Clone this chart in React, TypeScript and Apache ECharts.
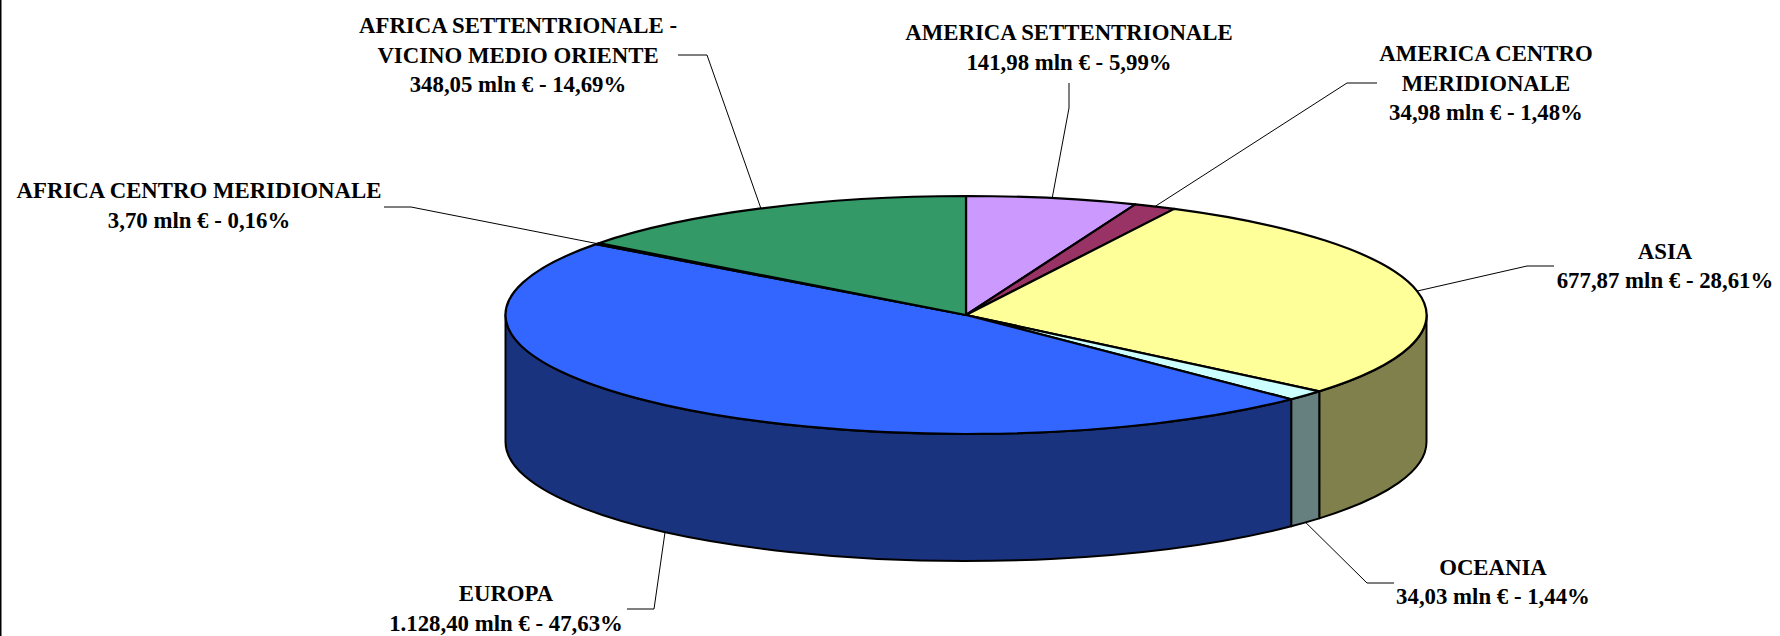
import React, { useEffect, useRef } from "react";
import * as echarts from "echarts";

const categories = [
  "AMERICA SETTENTRIONALE",
  "AMERICA CENTRO\nMERIDIONALE",
  "ASIA",
  "OCEANIA",
  "EUROPA",
  "AFRICA CENTRO MERIDIONALE",
  "AFRICA SETTENTRIONALE -\nVICINO MEDIO ORIENTE",
];
const values = [141.98, 34.98, 677.87, 34.03, 1128.4, 3.7, 348.05];
const valueTexts = ["141,98", "34,98", "677,87", "34,03", "1.128,40", "3,70", "348,05"];
const percentTexts = ["5,99", "1,48", "28,61", "1,44", "47,63", "0,16", "14,69"];
const topColors = ["#CC99FF", "#993366", "#FFFF99", "#CCFFFF", "#3366FF", "#339966", "#339966"];
const wallColors = ["#664D80", "#4D1A33", "#80804D", "#668080", "#1A337F", "#1A4D33", "#1A4D33"];

// layout of the labels: text centre, and the elbow of each leader line (start, bend)
const labelCenters = [[1069, 47.5], [1486, 83], [1665, 266], [1493, 582], [506, 608.5], [199, 205.5], [518, 55]];
const leaderStarts = [[1069, 83], [1377, 83], [1554, 266], [1394, 583], [627, 609], [384, 207], [678, 55]];
const leaderBends = [[1069, 108], [1347, 83], [1527, 266], [1367, 583], [654, 609], [411, 207], [707, 55]];

const CX = 966;
const CY = 315;
const RX = 460.5;
const RY = 119;
const DEPTH = 127;
const FONT = "Liberation Serif";

const total = values.reduce((a, b) => a + b, 0);
const fractionBefore = (i: number) => values.slice(0, i).reduce((a, b) => a + b, 0) / total;
const pt = (deg: number, dy = 0): [number, number] => {
  const r = (deg * Math.PI) / 180;
  return [CX + RX * Math.sin(r), CY - RY * Math.cos(r) + dy];
};
const arc = (to: [number, number], large: boolean, sweep: 0 | 1) =>
  `A${RX} ${RY} 0 ${large ? 1 : 0} ${sweep} ${to[0]} ${to[1]}`;

function renderWall(params: any) {
  const i = params.dataIndex;
  const a0 = Math.max(fractionBefore(i) * 360, 90);
  const a1 = Math.min(fractionBefore(i + 1) * 360, 270);
  if (a1 <= a0) return { type: "group", children: [] };
  const p0 = pt(a0);
  const p1 = pt(a1);
  const q0 = pt(a0, DEPTH);
  const q1 = pt(a1, DEPTH);
  const d = `M${p0[0]} ${p0[1]} L${q0[0]} ${q0[1]} ${arc(q1, a1 - a0 > 180, 1)} L${p1[0]} ${p1[1]} ${arc(p0, a1 - a0 > 180, 0)}Z`;
  return {
    type: "path",
    shape: { pathData: d },
    style: { fill: wallColors[i], stroke: "#000", lineWidth: 2, lineJoin: "round" },
  };
}

function renderTop(params: any) {
  const i = params.dataIndex;
  const a0 = fractionBefore(i) * 360;
  const a1 = fractionBefore(i + 1) * 360;
  const p0 = pt(a0);
  const p1 = pt(a1);
  const d = `M${CX} ${CY} L${p0[0]} ${p0[1]} ${arc(p1, a1 - a0 > 180, 1)}Z`;
  return {
    type: "path",
    shape: { pathData: d },
    style: { fill: topColors[i], stroke: "#000", lineWidth: 2.2, lineJoin: "round" },
  };
}

function renderLabel(params: any) {
  const i = params.dataIndex;
  const mid = ((fractionBefore(i) + fractionBefore(i + 1)) / 2) * 360;
  const onWall = mid > 90 && mid < 270 && i !== 2;
  const tip = pt(mid, onWall ? DEPTH : 0);
  const text = `${categories[i]}\n${valueTexts[i]} mln € - ${percentTexts[i]}%`;
  return {
    type: "group",
    children: [
      {
        type: "polyline",
        shape: { points: [leaderStarts[i], leaderBends[i], tip] },
        style: { stroke: "#000", lineWidth: 1, fill: "none" },
      },
      {
        type: "text",
        x: labelCenters[i][0],
        y: labelCenters[i][1],
        style: {
          text,
          fill: "#000",
          font: `bold 22.8px "${FONT}"`,
          lineHeight: 29.7,
          align: "center",
          verticalAlign: "middle",
        },
      },
    ],
  };
}

export default function App() {
  const ref = useRef<HTMLDivElement>(null);
  useEffect(() => {
    document.body.style.margin = "0";
    const chart = echarts.init(ref.current!, undefined, { renderer: "svg" });
    const data = values.map((v, i) => ({ name: categories[i], value: v }));
    chart.setOption({
      animation: false,
      backgroundColor: "#fff",
      graphic: [
        {
          type: "line",
          shape: { x1: 0.75, y1: 0, x2: 0.75, y2: 636 },
          style: { stroke: "#000", lineWidth: 1.5 },
        },
      ],
      series: [
        { type: "custom", coordinateSystem: "none", renderItem: renderWall, data, z: 1, silent: true },
        { type: "custom", coordinateSystem: "none", renderItem: renderTop, data, z: 2, silent: true },
        { type: "custom", coordinateSystem: "none", renderItem: renderLabel, data, z: 3, silent: true },
      ],
    });
    return () => chart.dispose();
  }, []);
  return <div ref={ref} style={{ width: 1780, height: 636 }} />;
}
